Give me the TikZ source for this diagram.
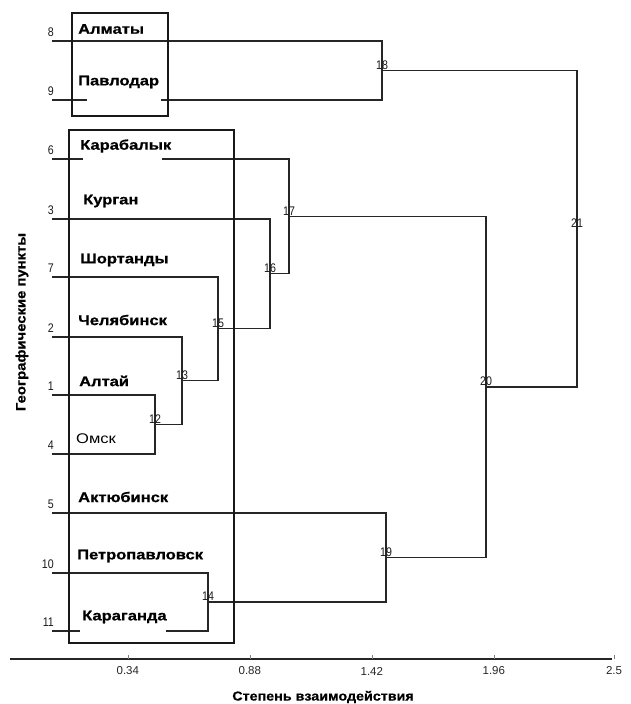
\documentclass[tikz,border=0pt]{standalone}
\usepackage{fontspec}
\setmainfont{Liberation Sans}
\newfontfamily\cityfont[FakeStretch=1.18,BoldFeatures={FakeBold=0.8}]{Liberation Sans}
\newfontfamily\numfont[FakeStretch=0.85]{Liberation Sans}
\newfontfamily\tickfont[FakeStretch=1.0]{Liberation Sans}
\newfontfamily\titfont[FakeStretch=1.1,BoldFeatures={FakeBold=0.6}]{Liberation Sans}
\begin{document}
\begin{tikzpicture}[x=1pt,y=-1pt,
  link/.style={draw=black!85, line width=1.1pt},
  frame/.style={draw=black!90, line width=1.3pt},
  city/.style={anchor=west, inner sep=0pt, font=\cityfont\bfseries\fontsize{14}{14}\selectfont},
  plaincity/.style={anchor=west, inner sep=0pt, font=\cityfont\fontsize{14}{14}\selectfont},
  leafnum/.style={anchor=south east, inner sep=0pt, text=black!90, font=\numfont\fontsize{12.5}{12.5}\selectfont},
  mergenum/.style={anchor=south, inner sep=0pt, text=black!90, font=\numfont\fontsize{12.5}{12.5}\selectfont},
  ticklab/.style={anchor=center, inner sep=0pt, text=black!85, font=\tickfont\fontsize{11.5}{11.5}\selectfont},
  axtitle/.style={inner sep=0pt, font=\titfont\bfseries\fontsize{13}{13}\selectfont}]
\useasboundingbox (0,0) rectangle (630,704);

% leaves
\foreach \n/\y in {8/41,9/100,6/159,3/219,7/277,2/337,1/395,4/454,5/513,10/573,11/631}{
  \coordinate (L\n) at (52,\y);
  \node[leafnum] (N\n) at (54,\y-4) {\n};
}

% junctions
\coordinate (J12) at (155,424.5);
\coordinate (J13) at (182,380.75);
\coordinate (J15) at (218,328.9);
\coordinate (J16) at (270,273.9);
\coordinate (J17) at (289,216.5);
\coordinate (J18) at (382,70.5);
\coordinate (J14) at (208,602);
\coordinate (J19) at (386,557.5);
\coordinate (J20) at (486,387);
\coordinate (J21) at (577,228.75);

% gap ends
\coordinate (G9a) at (87,100);  \coordinate (G9b) at (161,100);
\coordinate (G6a) at (83,159);  \coordinate (G6b) at (162,159);
\coordinate (G11a) at (80,631); \coordinate (G11b) at (166,631);

% links
\draw[link] (L1) -| (J12);
\draw[link] (L4) -| (J12);
\draw[link] (L2) -| (J13);
\draw[link] (J12) -| (J13);
\draw[link] (L7) -| (J15);
\draw[link] (J13) -| (J15);
\draw[link] (L3) -| (J16);
\draw[link] (J15) -| (J16);
\draw[link] (L6) -- (G6a);
\draw[link] (G6b) -| (J17);
\draw[link] (J16) -| (J17);
\draw[link] (L8) -| (J18);
\draw[link] (L9) -- (G9a);
\draw[link] (G9b) -| (J18);
\draw[link] (L10) -| (J14);
\draw[link] (L11) -- (G11a);
\draw[link] (G11b) -| (J14);
\draw[link] (L5) -| (J19);
\draw[link] (J14) -| (J19);
\draw[link] (J17) -| (J20);
\draw[link] (J19) -| (J20);
\draw[link] (J18) -| (J21);
\draw[link] (J20) -| (J21);

% merge labels
\foreach \j in {12,13,14,15,16,17,18,19,20,21}{
  \node[mergenum] (M\j) at ([yshift=1pt]J\j) {\j};
}

% frames
\draw[frame] (72,13) rectangle (168,116);
\draw[frame] (69,130) rectangle (234,643);

% city names
\node[city] (cAlm) at (78,29) {Алматы};
\node[city] (cPav) at (78,82) {Павлодар};
\node[city] (cKar) at (80,146) {Карабалык};
\node[city] (cKur) at (83,201) {Курган};
\node[city] (cSho) at (80,260) {Шортанды};
\node[city] (cChe) at (78,320) {Челябинск};
\node[city] (cAlt) at (79,381) {Алтай};
\node[plaincity] (cOms) at (76,439) {Омск};
\node[city] (cAkt) at (78,497) {Актюбинск};
\node[city] (cPet) at (77,556) {Петропавловск};
\node[city] (cKrg) at (82,617) {Караганда};

% axis
\coordinate (A0) at (10,659);
\coordinate (A1) at (612,659);
\draw[link] (A0) -- (A1);
\foreach \v/\x in {0.34/127.8,0.88/249.8,1.42/371.8,1.96/493.8,2.5/614}{
  \draw[draw=black!50, line width=0.6pt] (\x,659) -- (\x,655);
  \node[ticklab] at (\x,671) {\v};
}
\node[axtitle] (xt) at (323,697) {Степень взаимодействия};
\node[axtitle, font=\titfont\bfseries\fontsize{13.5}{13.5}\selectfont, rotate=90] (yt) at (22,322) {Географические пункты};
\end{tikzpicture}
\end{document}
